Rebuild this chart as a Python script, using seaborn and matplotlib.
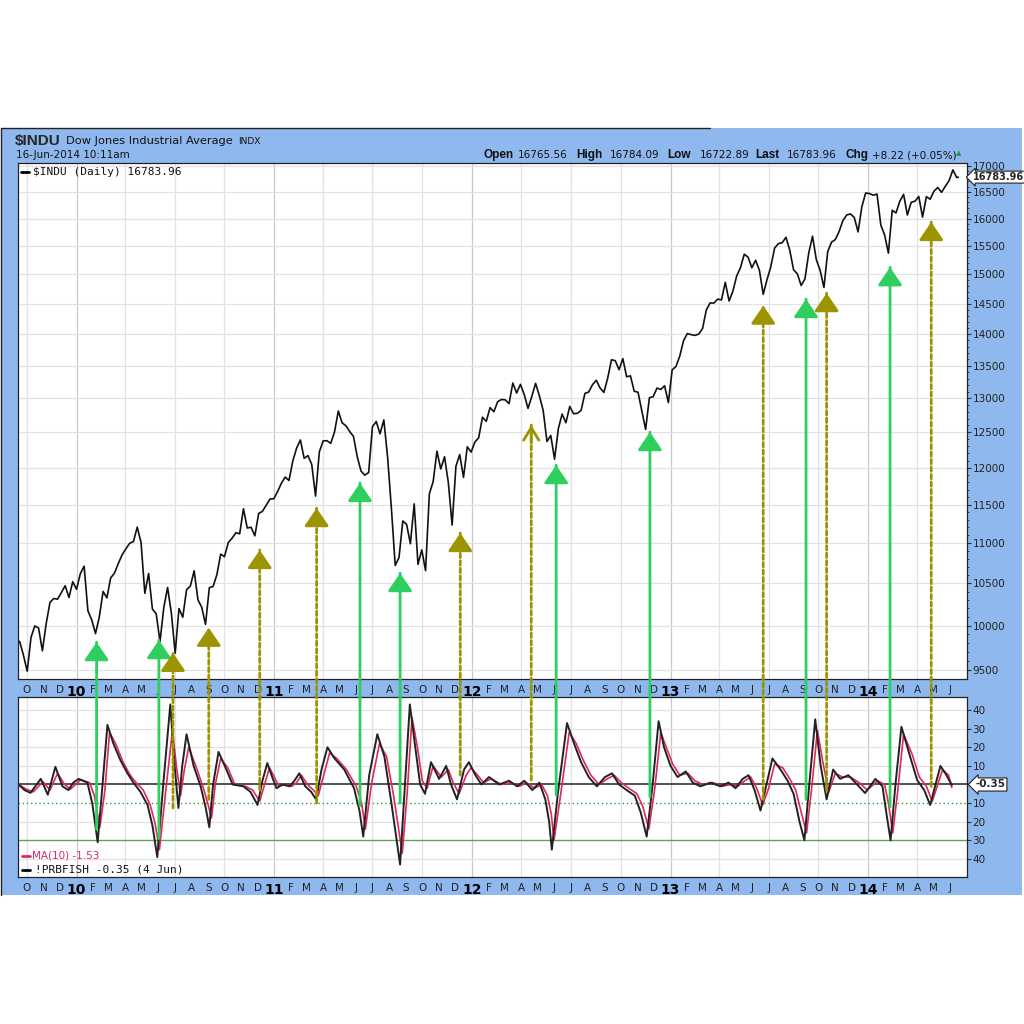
import matplotlib
matplotlib.use('Agg')
import matplotlib.pyplot as plt
import matplotlib.dates as mdates
from matplotlib.patches import Rectangle, ConnectionPatch
from matplotlib.lines import Line2D
import seaborn as sns
import pandas as pd

# ---- weekly closes of $INDU (Friday, swing lows swapped in) ----
close_2009 = [9820, 9665, 9487, 9865, 9996, 9972, 9713, 10023, 10271, 10318,
              10310, 10388, 10471, 10329, 10520]
close_2010 = [10428, 10618, 10710, 10172, 10067,
              9908, 10099, 10402, 10325,
              10566, 10625, 10742, 10850,
              10927, 10997, 11019, 11204, 11009,
              10380, 10620, 10193, 10137,
              9816, 10211, 10450, 10144,
              9686, 10198, 10097, 10424, 10466,
              10653, 10303, 10213, 10014,
              10447, 10462, 10607, 10860,
              10829, 11006, 11062, 11132, 11118,
              11444, 11192, 11203, 11092,
              11382, 11410, 11492, 11573, 11578]
close_2011 = [11674, 11787, 11871, 11824,
              12092, 12273, 12391, 12130,
              12169, 12044, 11613, 12221,
              12377, 12380, 12342, 12505, 12811,
              12638, 12596, 12512, 12441,
              12151, 11952, 11897, 11934,
              12582, 12657, 12479, 12681, 12143,
              11444, 10720, 10817, 11284,
              11240, 10992, 11509, 10733, 10913,
              10655, 11644, 11808, 12231,
              11983, 12153, 11796, 11231,
              12019, 12184, 11866, 12294, 12218]
close_2012 = [12360, 12422, 12720, 12660,
              12862, 12801, 12950, 12983,
              12978, 12922, 13233, 13081, 13212,
              13060, 12850, 13029, 13228,
              13038, 12821, 12369, 12455,
              12119, 12554, 12767, 12640, 12880,
              12772, 12777, 12822, 13075,
              13096, 13207, 13275, 13157, 13090,
              13306, 13593, 13579, 13437,
              13610, 13328, 13343, 13107,
              13093, 12815, 12542, 13010, 13026,
              13155, 13135, 13190, 12938]
close_2013 = [13435, 13488, 13650, 13896,
              14010, 13993, 13981, 14001,
              14090, 14397, 14515, 14512, 14579,
              14565, 14865, 14547, 14712,
              14973, 15118, 15354, 15303, 15116,
              15248, 15070, 14660, 14910,
              15135, 15464, 15544, 15559,
              15658, 15425, 15081, 15010, 14810,
              14922, 15376, 15676, 15258,
              15073, 14776, 15400, 15570,
              15616, 15762, 15962, 16065, 16086,
              16020, 15755, 16221, 16479]
close_2014 = [16470, 16437, 16459, 15879, 15699,
              15373, 16154, 16104, 16322,
              16453, 16065, 16303, 16323,
              16413, 16027, 16409, 16361,
              16513, 16584, 16492, 16607, 16717,
              16925, 16776]
last_date, last_close = '2014-06-16', 16783.96

# ---- !PRBFISH oscillator (turning points) ----
fish_2009_md = ['09-16', '09-27', '10-08', '10-27', '11-09', '11-23', '12-06', '12-17', '12-26']
fish_2009 = [0, -3, -4.5, 3, -5.5, 9.5, -1, -3, 1]
fish_2010_md = ['01-05', '01-21', '01-30', '02-09', '02-18', '02-27', '03-10', '03-23', '04-05',
                '04-16', '04-29', '05-12', '05-21', '05-30', '06-10', '06-23', '07-01', '07-08',
                '07-15', '07-23', '08-05', '08-18', '08-27', '09-03', '09-10', '09-20', '10-03',
                '10-16', '11-05', '11-18', '12-01', '12-10', '12-19', '12-28']
fish_2010 = [3, 1, -10, -31, 0, 32, 22, 13, 6, 1, -4, -11, -22, -39, 0, 43, 10, -12.6,
             10, 27, 10, -1, -12, -23, 0, 17.5, 9, 0, -1, -4, -11, 2, 11.5, 4]
fish_2011_md = ['01-05', '01-16', '01-29', '02-07', '02-16', '02-27', '03-10', '03-19', '03-29',
                '04-09', '04-22', '05-10', '05-28', '06-07', '06-14', '06-25', '07-10', '07-23',
                '08-05', '08-21', '08-30', '09-08', '09-18', '09-27', '10-06', '10-17', '11-01',
                '11-14', '11-23', '12-04', '12-17', '12-26']
fish_2011 = [-2, 0, -1, 2, 6, -1, -4, -8, 8, 20, 14, 8, -2, -14, -28, 5, 27, 15,
             -10, -43, 0, 43, 20, 0, -5, 12, 3, 10, 0, -8, 8, 12]
fish_2012_md = ['01-07', '01-18', '02-01', '02-20', '03-09', '03-24', '04-06', '04-21', '05-04',
                '05-15', '05-22', '05-27', '06-07', '06-24', '07-07', '07-20', '08-03', '08-18',
                '09-02', '09-15', '09-28', '10-12', '10-27', '11-07', '11-18', '11-29', '12-10',
                '12-20']
fish_2012 = [5, 0, 4, 0, 2, -1, 2, -3, 1, -8, -20, -35, -5, 33, 22, 12, 4, -1,
             4, 6, 0, -3, -6, -15, -28, 0, 34, 20]
fish_2013_md = ['01-01', '01-14', '01-29', '02-11', '02-25', '03-16', '04-03', '04-18', '05-01',
                '05-14', '05-25', '06-05', '06-16', '06-27', '07-08', '07-23', '08-05', '08-16',
                '08-27', '09-05', '09-14', '09-25', '10-05', '10-16', '10-28', '11-10', '11-25',
                '12-11', '12-26']
fish_2013 = [10, 4, 7, 1, -1, 1, -1, 1, -2, 3, 5, -3, -14, 0, 14, 8, 2, -5,
             -20, -30, 0, 35, 10, -8, 8, 3, 5, 0, -4.6]
fish_2014_md = ['01-14', '01-27', '02-03', '02-11', '02-20', '03-03', '03-19', '04-01', '04-14',
                '04-25', '05-14', '05-25', '06-04']
fish_2014 = [3, -1, -15, -30, 0, 31, 15, 2.4, -3, -11, 10, 5, -0.35]

# ---- MA(10) of the oscillator ----
ma_2009_md = ['09-16', '09-30', '10-13', '10-31', '11-13', '11-27', '12-10', '12-21', '12-30']
ma_2009 = [0, -2.5, -4, 1.5, -3, 6, 0, -2.5, 0]
ma_2010_md = ['01-09', '01-25', '02-03', '02-13', '02-22', '03-03', '03-14', '03-28', '04-10',
              '04-21', '05-04', '05-17', '05-26', '06-03', '06-14', '06-27', '07-05', '07-12',
              '07-19', '07-27', '08-09', '08-22', '08-31', '09-07', '09-14', '09-24', '10-07',
              '10-20', '11-09', '11-22', '12-05', '12-14', '12-23']
ma_2010 = [2.5, 1, -6, -23, -4, 28, 22, 12, 5, 1, -3, -11, -21, -35, -5, 29, 8, -6,
           8, 20, 10, -1, -10, -18, 0, 14, 9, 0, -1, -3, -9, 0, 9]
ma_2011_md = ['01-01', '01-09', '01-20', '02-02', '02-11', '02-20', '03-03', '03-14', '03-23',
              '04-02', '04-13', '04-26', '05-14', '06-01', '06-11', '06-18', '06-29', '07-14',
              '07-27', '08-09', '08-25', '09-03', '09-12', '09-22', '10-01', '10-10', '10-21',
              '11-05', '11-18', '11-27', '12-08', '12-21', '12-30']
ma_2011 = [4, -1, 0, -1, 1, 5, 0, -3, -6, 5, 17, 14, 8, -1, -10, -24, 0, 22,
           15, -6, -37, -5, 36, 20, 2, -2, 10, 4, 8, 1, -5, 5, 9]
ma_2012_md = ['01-11', '01-22', '02-05', '02-24', '03-13', '03-28', '04-10', '04-25', '05-08',
              '05-19', '05-26', '05-31', '06-11', '06-28', '07-11', '07-24', '08-07', '08-22',
              '09-06', '09-19', '10-02', '10-16', '10-31', '11-11', '11-22', '12-03', '12-14',
              '12-24']
ma_2012 = [5, 1, 3, 0, 1, -1, 1, -2, 0, -6, -16, -30, -8, 28, 22, 13, 5, 0,
           3, 5, 1, -2, -5, -12, -24, -2, 28, 20]
ma_2013_md = ['01-05', '01-18', '02-02', '02-15', '03-01', '03-20', '04-07', '04-22', '05-05',
              '05-18', '05-29', '06-09', '06-20', '07-01', '07-12', '07-27', '08-09', '08-20',
              '08-31', '09-09', '09-18', '09-29', '10-09', '10-20', '11-01', '11-14', '11-29',
              '12-15', '12-30']
ma_2013 = [11, 5, 6, 2, 0, 1, -1, 0, -1, 2, 4, -2, -11, -2, 11, 9, 3, -3,
           -16, -26, -3, 29, 12, -4, 6, 4, 4, 1, -3]
ma_2014_md = ['01-18', '01-31', '02-07', '02-15', '02-24', '03-07', '03-23', '04-05', '04-18',
              '04-29', '05-18', '05-29', '06-04']
ma_2014 = [2, 0, -10, -26, -4, 27, 16, 4, -1, -9, 8, 5, -1.53]

# ---- signal arrows: date, price at arrow tip, oscillator level at arrow foot ----
green_dates = ['2010-02-07', '2010-06-02', '2011-06-08', '2011-08-21',
               '2012-06-04', '2012-11-24', '2013-09-08', '2014-02-10']
green_tip = [9811, 9834, 11790, 10625, 12036, 12504, 14580, 15125]
green_foot = [-24, -29, -11.5, -10, -5.6, -6.7, -8, -12]
olive_dates = ['2010-06-28', '2010-09-02', '2010-12-05', '2011-03-20', '2011-12-10',
               '2012-04-19', '2013-06-21', '2013-10-16', '2014-04-27']
olive_tip = [9690, 9975, 10912, 11453, 11128, 12606, 14470, 14680, 15936]
olive_foot = [-12.6, -8, -3, -10, 5, 2.4, -8, -3, -1]
olive_open_head = [False, False, False, False, False, True, False, False, False]

price_levels = [9500, 10000, 10500, 11000, 11500, 12000, 12500, 13000, 13500,
                14000, 14500, 15000, 15500, 16000, 16500, 17000]
osc_levels = [-40, -30, -20, -10, 0, 10, 20, 30, 40]

# ---- build frames ----
price_parts = [('2009-09-18', '2009-12-31', close_2009), ('2010-01-01', '2010-12-31', close_2010),
               ('2011-01-01', '2011-12-31', close_2011), ('2012-01-01', '2012-12-31', close_2012),
               ('2013-01-01', '2013-12-31', close_2013), ('2014-01-01', '2014-06-13', close_2014)]
frames = []
for start, end, vals in price_parts:
    d = pd.date_range(start, end, freq='W-FRI')
    assert len(d) == len(vals), (start, len(d), len(vals))
    frames.append(pd.DataFrame({'date': d, 'close': vals}))
frames.append(pd.DataFrame({'date': [pd.Timestamp(last_date)], 'close': [last_close]}))
price = pd.concat(frames, ignore_index=True)


def stack(parts):
    dates, vals = [], []
    for year, md, v in parts:
        assert len(md) == len(v), year
        dates += [f'{year}-{m}' for m in md]
        vals += v
    return pd.DataFrame({'date': pd.to_datetime(dates), 'value': vals})


fish = stack([(2009, fish_2009_md, fish_2009), (2010, fish_2010_md, fish_2010),
              (2011, fish_2011_md, fish_2011), (2012, fish_2012_md, fish_2012),
              (2013, fish_2013_md, fish_2013), (2014, fish_2014_md, fish_2014)])
ma = stack([(2009, ma_2009_md, ma_2009), (2010, ma_2010_md, ma_2010),
            (2011, ma_2011_md, ma_2011), (2012, ma_2012_md, ma_2012),
            (2013, ma_2013_md, ma_2013), (2014, ma_2014_md, ma_2014)])

# ---- styling ----
BLUE = '#8fb8ef'
GREEN = '#2fcf5f'
OLIVE = '#9c9400'
RED = '#e0285a'
GRID = '#e2e2e2'

sns.set_theme(style='white')
plt.rcParams['font.family'] = ['DejaVu Sans']

W = H = 1024
fig = plt.figure(figsize=(10.24, 10.24), dpi=100)
fig.patch.set_facecolor('white')


def rect(x0, y0, x1, y1):
    return [x0 / W, 1 - y1 / H, (x1 - x0) / W, (y1 - y0) / H]


def ftext(x, y, s, **kw):
    kw.setdefault('va', 'center')
    fig.text(x / W, 1 - y / H, s, **kw)


fig.add_artist(Rectangle((1 / W, 1 - 895 / H), 1021 / W, 767 / H, transform=fig.transFigure,
                         fc=BLUE, ec='none', zorder=-10))
fig.add_artist(Line2D([1 / W, 710 / W], [1 - 128 / H] * 2, transform=fig.transFigure, color='#222', lw=1))
fig.add_artist(Line2D([1 / W] * 2, [1 - 128 / H, 1 - 895 / H], transform=fig.transFigure, color='#222', lw=1))

ax = fig.add_axes(rect(18, 163, 967, 679))
axo = fig.add_axes(rect(18, 697, 967, 877))

x0, x1 = pd.Timestamp('2009-09-15'), pd.Timestamp('2014-07-02')
months = pd.date_range('2009-10-01', '2014-06-01', freq='MS')
quarters = pd.date_range('2009-10-01', '2014-04-01', freq='QS')
mlabels = [m.strftime('%y') if m.month == 1 else m.strftime('%b')[0] for m in months]

for a in (ax, axo):
    a.set_facecolor('white')
    a.set_xlim(x0, x1)
    for q in quarters:
        a.axvline(q, color='#c8c8c8' if q.month == 1 else GRID, lw=0.9, zorder=0)
    a.set_xticks(months)
    a.set_xticklabels(mlabels)
    a.tick_params(axis='x', length=3, width=0.8, color='#555', pad=1.5, labelsize=7.5, labelcolor='#222')
    for t in a.get_xticklabels():
        if t.get_text().isdigit():
            t.set_fontweight('bold')
            t.set_fontsize(10)
            t.set_color('black')
    for s in a.spines.values():
        s.set_color('#222')
        s.set_linewidth(0.9)
    a.yaxis.tick_right()
    a.tick_params(axis='y', length=3, width=0.8, color='#333', pad=1, labelsize=7.5, labelcolor='#222')

# price panel
sns.lineplot(data=price, x='date', y='close', ax=ax, color='#111111', lw=1.2, zorder=3)
ax.set_yscale('log')
ax.set_ylim(9402, 17060)
ax.set_yticks(price_levels)
ax.set_yticklabels([str(v) for v in price_levels])
ax.set_yticks(range(9500, 17001, 100), minor=True)
ax.yaxis.set_minor_formatter(plt.NullFormatter())
ax.tick_params(axis='y', which='minor', length=1.5, width=0.6, color='#333')
for v in price_levels:
    ax.axhline(v, color=GRID, lw=0.9, zorder=0)
ax.set_xlabel('')
ax.set_ylabel('')
ax.annotate(f'{last_close:.2f}', xy=(1, last_close), xycoords=('axes fraction', 'data'),
            xytext=(4, 0), textcoords='offset points', va='center', ha='left',
            fontsize=7, fontweight='bold', annotation_clip=False,
            bbox=dict(boxstyle='larrow,pad=0.1', fc='white', ec='#222', lw=0.8))

# oscillator panel
for lvl, st, c, w in [(0, '-', '#333333', 1.2), (-10, (0, (1, 2)), '#3a9a3a', 1.0), (-30, '-', '#5aa55a', 1.0)]:
    axo.axhline(lvl, color=c, ls=st, lw=w, zorder=1)
for v in osc_levels:
    if v not in (0, -10, -30):
        axo.axhline(v, color=GRID, lw=0.9, zorder=0)
sns.lineplot(data=ma, x='date', y='value', ax=axo, color=RED, lw=1.2, zorder=3)
sns.lineplot(data=fish, x='date', y='value', ax=axo, color='#222222', lw=1.4, zorder=4)
axo.set_ylim(-49.7, 47)
axo.set_yticks(osc_levels)
axo.set_yticklabels(['' if v == 0 else str(abs(v)) for v in osc_levels])
axo.set_xlabel('')
axo.set_ylabel('')
axo.annotate('-0.35', xy=(1, 0), xycoords=('axes fraction', 'data'),
             xytext=(6, 0), textcoords='offset points', va='center', ha='left',
             fontsize=7.5, fontweight='bold', annotation_clip=False,
             bbox=dict(boxstyle='larrow,pad=0.15', fc='white', ec='#222', lw=0.8))

# signal arrows spanning both panels
def signal(date, tip, foot, color, dashed, open_head=False):
    dn = mdates.date2num(pd.Timestamp(date))
    con = ConnectionPatch(xyA=(dn, foot), coordsA=axo.transData, xyB=(dn, tip), coordsB=ax.transData,
                          color=color, lw=2.0, linestyle=(0, (1.6, 1.1)) if dashed else '-', zorder=5)
    fig.add_artist(con)
    style = '->,head_length=0.9,head_width=0.55' if open_head else '-|>,head_length=1.1,head_width=0.75'
    ax.annotate('', xy=(dn, tip), xytext=(0, -13), textcoords='offset points', annotation_clip=False,
                arrowprops=dict(arrowstyle=style, mutation_scale=10, color=color, lw=2,
                                joinstyle='round', capstyle='round', shrinkA=0, shrinkB=0), zorder=6)


for d, t, f in zip(green_dates, green_tip, green_foot):
    signal(d, t, f, GREEN, False)
for d, t, f, o in zip(olive_dates, olive_tip, olive_foot, olive_open_head):
    signal(d, t, f, OLIVE, True, o)

# header texts
ftext(15, 141, '$INDU', fontsize=11, fontweight='bold', family=['Liberation Sans'])
ftext(66, 141, 'Dow Jones Industrial Average', fontsize=8.2, color='#111')
ftext(238, 141, 'INDX', fontsize=6.5, color='#111')
ftext(16, 155, '16-Jun-2014 10:11am', fontsize=7.5, color='#111')
for x, s, bold in [(484, 'Open', True), (518, '16765.56', False), (576, 'High', True),
                   (610, '16784.09', False), (667, 'Low', True), (700, '16722.89', False),
                   (755, 'Last', True), (787, '16783.96', False), (845, 'Chg', True),
                   (872, '+8.22 (+0.05%)', False)]:
    ftext(x, 155, s, fontsize=8.5 if bold else 7.5, fontweight='bold' if bold else 'normal',
          family=['Liberation Sans'] if bold else ['DejaVu Sans'], color='#111')
ftext(956, 153, '▲', fontsize=5, color='#1a9a3a')

# legends
fig.add_artist(Line2D([21 / W, 29 / W], [1 - 172 / H] * 2, transform=fig.transFigure, color='black', lw=2))
ftext(33, 172, '$INDU (Daily) 16783.96', fontsize=8, family=['DejaVu Sans Mono'], color='#111')
fig.add_artist(Line2D([22 / W, 30 / W], [1 - 856 / H] * 2, transform=fig.transFigure, color=RED, lw=2))
ftext(32, 856, 'MA(10) -1.53', fontsize=7.5, color=RED)
fig.add_artist(Line2D([22 / W, 30 / W], [1 - 870 / H] * 2, transform=fig.transFigure, color='black', lw=2))
ftext(35, 870, '!PRBFISH -0.35 (4 Jun)', fontsize=8, family=['DejaVu Sans Mono'], color='#111')

fig.savefig('out.png', dpi=100, facecolor='white')
